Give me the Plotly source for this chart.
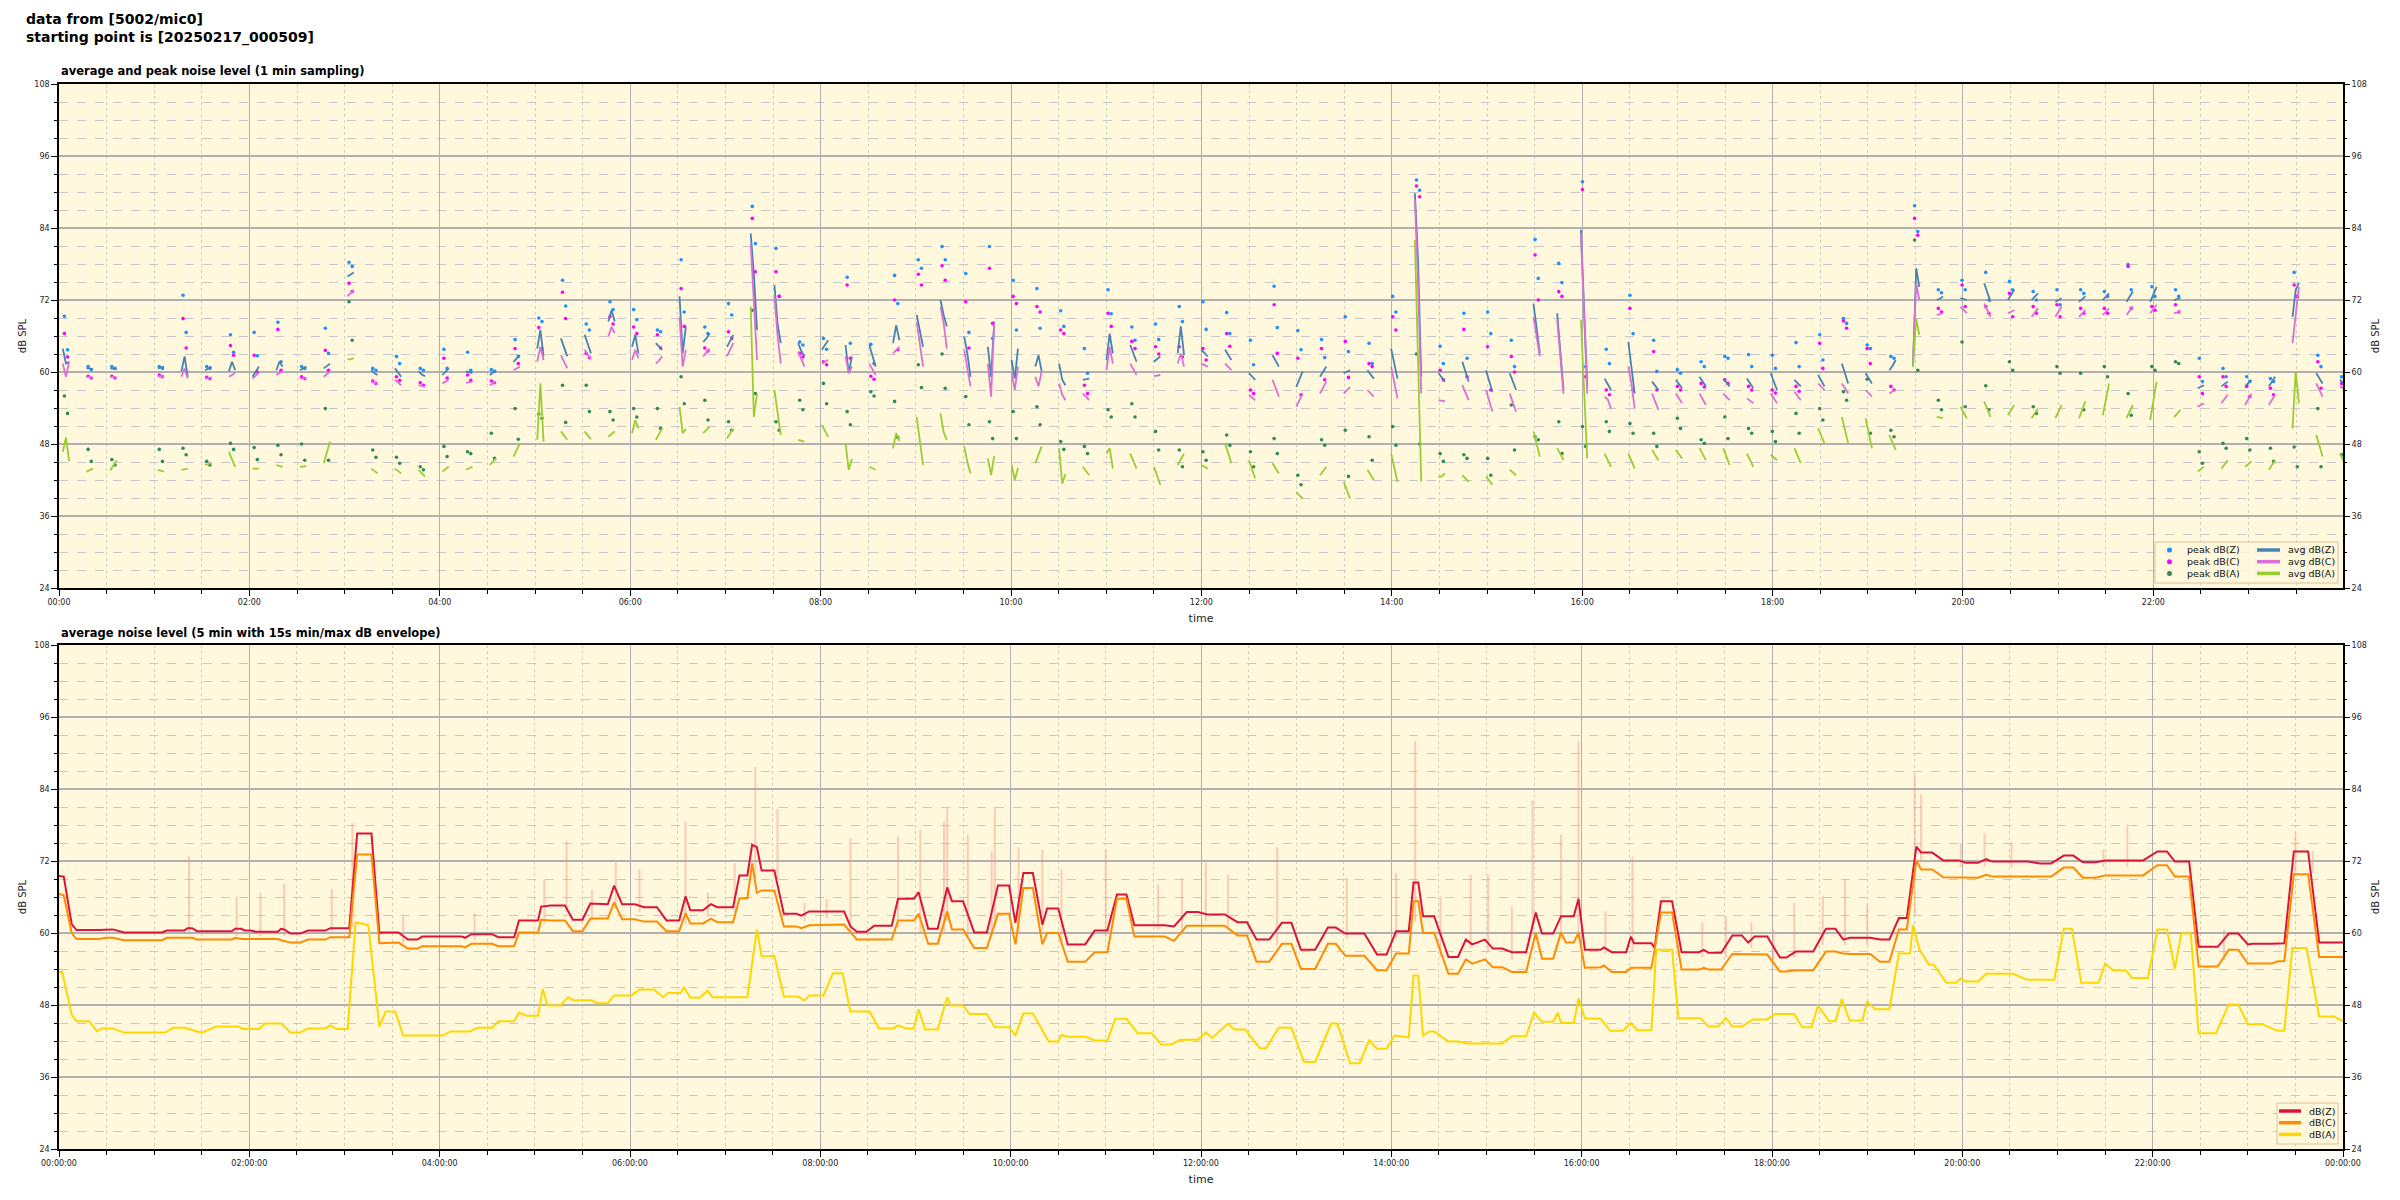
import pandas as pd
import plotly.graph_objects as go

BASE = pd.Timestamp("2025-02-17 00:00:00")

# ---------------- top panel: 1-min samples, short bursts every ~15 min ----------------
burst_index = [0, 1, 2] + list(range(4, 97))

avg_z = [
    (63.9, 61.4, 61.7), (60.6, 60.6, 60.4), (60.6, 60.6, 60.5), (60.6, 60.8, 60.9), (60.1, 62.6, 59.2),
    (60.3, 60.6, 60.9), (60.1, 61.7, 60.3), (59.2, 60.0, 60.9), (60.3, 61.7, 60.9), (60.3, 60.6, 60.9),
    (60.6, 61.0, 61.4), (75.9, 76.3, 76.6), (60.3, 59.8, 59.5), (60.6, 59.8, 59.2), (60.1, 59.6, 59.3),
    (59.5, 60.0, 60.6), (60.1, 60.0, 59.8), (59.5, 59.9, 60.3), (61.7, 62.3, 62.8), (63.9, 67.0, 62.6),
    (65.6, 64.0, 62.6), (66.2, 64.5, 63.1), (68.4, 70.3, 68.4), (64.2, 66.2, 63.1), (64.8, 64.2, 63.7),
    (72.6, 63.1, 67.6), (65.0, 65.6, 66.4), (64.2, 65.2, 66.2), (83.1, 76.4, 67.0), (74.5, 68.0, 64.8),
    (64.8, 63.5, 62.6), (63.7, 64.5, 65.3), (64.5, 59.8, 62.6), (64.5, 62.5, 60.9), (64.8, 67.8, 65.3),
    (69.5, 66.5, 64.2), (72.0, 69.5, 67.6), (65.9, 63.1, 59.2), (64.2, 59.2, 68.4), (62.0, 58.9, 63.9),
    (60.9, 62.8, 60.1), (61.4, 58.7, 57.8), (58.7, 58.8, 58.9), (62.0, 66.4, 63.1), (64.5, 63.0, 61.7),
    (61.7, 62.2, 62.6), (63.1, 67.6, 62.8), (63.7, 63.1, 62.6), (63.7, 62.8, 62.0), (59.8, 59.2, 58.7),
    (62.8, 61.8, 60.9), (57.5, 58.8, 60.1), (59.2, 60.0, 60.9), (59.8, 60.0, 60.3), (60.3, 59.6, 58.9),
    (63.9, 61.5, 58.9), (89.8, 78.7, 59.2), (59.8, 59.1, 58.4), (61.7, 60.0, 58.4), (60.3, 58.5, 56.7),
    (59.8, 58.4, 57.0), (71.4, 67.0, 63.1), (69.8, 63.0, 57.0), (83.7, 70.0, 57.6), (58.9, 58.0, 57.0),
    (65.0, 60.5, 56.4), (58.4, 57.7, 57.0), (58.7, 58.0, 57.3), (59.2, 58.4, 57.6), (58.9, 58.2, 57.6),
    (58.9, 58.1, 57.3), (59.8, 58.4, 57.0), (58.7, 58.1, 57.6), (59.5, 58.6, 57.6), (61.4, 59.7, 58.1),
    (59.8, 58.9, 58.1), (60.3, 61.0, 62.0), (60.9, 77.3, 74.2), (72.0, 72.2, 72.6), (72.3, 72.2, 72.0),
    (74.8, 73.2, 71.7), (72.0, 72.8, 73.7), (72.0, 72.6, 73.1), (71.7, 72.0, 72.3), (71.7, 72.1, 72.6),
    (72.0, 72.6, 73.1), (71.7, 72.5, 73.4), (71.7, 73.0, 74.2), (72.0, 72.1, 72.3), (57.3, 57.6, 57.8),
    (57.6, 58.0, 58.4), (57.6, 58.1, 58.7), (57.6, 58.4, 59.2), (69.2, 73.7, 74.8), (59.8, 58.9, 58.1),
    (58.7, 58.3, 57.8),
]

avg_c = [
    (61.4, 59.2, 61.7), (59.2, 59.2, 59.0), (59.2, 59.2, 59.0), (59.3, 59.3, 59.2), (59.2, 60.6, 58.9),
    (58.9, 59.0, 59.1), (59.2, 59.5, 59.8), (58.9, 59.4, 59.9), (59.5, 59.8, 60.1), (58.9, 59.0, 59.0),
    (59.2, 59.6, 60.1), (72.6, 73.2, 73.7), (58.4, 58.2, 58.0), (58.7, 58.2, 57.8), (57.8, 57.7, 57.6),
    (58.1, 58.4, 58.7), (58.2, 58.3, 58.4), (57.8, 58.1, 58.4), (60.3, 60.6, 60.9), (61.7, 64.2, 62.0),
    (62.8, 61.6, 60.6), (63.7, 62.9, 62.1), (65.9, 67.5, 66.5), (62.0, 63.7, 62.3), (61.4, 61.9, 62.6),
    (69.2, 60.9, 63.7), (62.6, 63.3, 63.9), (62.6, 63.6, 64.8), (81.4, 72.0, 62.0), (72.6, 66.0, 61.4),
    (63.4, 62.2, 60.9), (61.4, 61.7, 62.0), (62.6, 59.8, 60.9), (61.4, 60.5, 59.5), (63.1, 63.7, 64.2),
    (68.4, 64.6, 60.9), (70.9, 68.2, 63.9), (63.7, 60.6, 57.6), (61.4, 55.9, 68.1), (59.8, 57.0, 60.9),
    (59.2, 57.6, 60.1), (58.1, 56.2, 55.3), (56.4, 55.9, 55.3), (60.3, 64.2, 61.4), (61.4, 60.4, 59.5),
    (59.3, 59.4, 59.5), (61.4, 63.1, 60.9), (61.4, 61.1, 60.9), (61.4, 60.8, 60.3), (56.2, 55.8, 55.3),
    (58.7, 57.3, 55.9), (54.2, 55.3, 56.4), (56.4, 57.4, 58.4), (56.4, 56.9, 57.5), (57.0, 56.4, 55.9),
    (60.9, 58.2, 55.6), (88.7, 74.8, 56.4), (55.3, 55.2, 55.1), (57.8, 56.5, 55.3), (57.0, 55.2, 53.4),
    (56.4, 54.9, 53.4), (69.2, 66.0, 62.6), (68.7, 62.0, 56.4), (83.1, 68.0, 56.4), (55.9, 55.4, 53.9),
    (60.9, 58.0, 53.9), (56.4, 55.0, 53.7), (56.4, 55.6, 54.8), (56.4, 55.5, 54.5), (56.4, 55.9, 55.3),
    (55.6, 55.2, 54.8), (56.4, 55.6, 54.8), (56.7, 56.0, 55.3), (58.1, 57.6, 57.0), (58.1, 57.3, 56.4),
    (57.0, 56.5, 55.9), (56.4, 56.8, 57.0), (62.0, 74.8, 72.0), (69.5, 69.6, 69.8), (70.9, 70.3, 69.8),
    (71.4, 70.3, 69.2), (69.8, 70.1, 70.3), (69.2, 69.9, 70.6), (69.2, 70.0, 70.9), (69.2, 69.8, 70.3),
    (69.5, 70.0, 70.6), (69.5, 70.2, 70.9), (69.8, 70.5, 71.2), (69.8, 69.9, 70.3), (54.2, 54.5, 54.8),
    (54.8, 55.5, 56.2), (54.5, 55.5, 56.4), (54.5, 55.3, 56.2), (64.8, 69.8, 74.2), (58.1, 57.0, 55.9),
    (57.6, 57.3, 57.0),
]

avg_a = [
    (46.7, 49.1, 45.1), (43.4, 43.6, 43.9), (43.6, 44.5, 45.3), (43.7, 43.6, 43.4), (43.7, 43.8, 43.9),
    (44.5, 44.6, 44.8), (46.7, 45.5, 44.2), (43.9, 43.9, 43.9), (44.5, 44.3, 44.2), (44.2, 44.2, 44.3),
    (44.8, 46.5, 48.4), (62.1, 62.1, 62.3), (43.9, 43.5, 43.1), (43.9, 43.5, 43.1), (43.7, 43.2, 42.6),
    (43.4, 43.8, 44.2), (43.7, 43.9, 44.2), (44.5, 45.0, 45.6), (45.9, 47.0, 48.1), (48.7, 58.1, 48.4),
    (50.1, 49.4, 48.7), (50.1, 49.4, 48.8), (49.2, 49.6, 50.1), (49.8, 52.0, 50.6), (48.7, 49.7, 50.6),
    (54.2, 49.8, 50.5), (49.8, 50.4, 50.9), (48.9, 49.8, 50.6), (70.9, 52.5, 56.4), (57.0, 53.0, 49.5),
    (48.7, 48.5, 48.4), (51.2, 50.2, 49.2), (48.1, 43.7, 45.5), (44.2, 43.9, 43.7), (47.3, 49.8, 48.5),
    (52.5, 48.0, 44.5), (53.1, 50.0, 48.7), (47.6, 45.0, 43.1), (45.6, 42.8, 46.0), (44.5, 42.0, 44.0),
    (44.8, 46.2, 47.6), (47.3, 41.4, 43.0), (44.2, 43.5, 42.8), (46.4, 47.3, 43.9), (46.4, 45.2, 43.9),
    (44.2, 42.7, 41.2), (44.5, 45.5, 46.4), (44.5, 44.2, 43.9), (48.1, 46.5, 44.8), (45.3, 43.8, 42.3),
    (44.8, 43.9, 43.1), (40.0, 39.5, 38.9), (42.8, 43.5, 44.2), (41.7, 40.3, 38.9), (43.7, 42.8, 42.0),
    (46.4, 44.0, 41.7), (82.0, 60.9, 41.7), (42.5, 42.6, 43.1), (42.8, 42.3, 41.7), (42.6, 41.9, 41.2),
    (43.7, 43.2, 42.8), (50.1, 48.0, 45.9), (47.3, 46.3, 45.3), (68.7, 56.0, 45.6), (46.4, 45.3, 44.2),
    (46.4, 45.1, 43.9), (47.0, 46.1, 45.3), (47.0, 46.3, 45.6), (47.3, 46.3, 45.3), (47.3, 45.9, 44.5),
    (46.4, 45.3, 44.2), (46.2, 45.8, 45.3), (47.3, 46.0, 44.8), (50.6, 49.4, 48.1), (52.5, 50.3, 48.1),
    (52.3, 49.8, 47.3), (49.5, 48.3, 47.0), (60.9, 68.9, 66.2), (52.5, 52.4, 52.3), (54.2, 53.2, 52.3),
    (55.1, 53.8, 52.5), (52.8, 53.7, 54.5), (52.3, 53.1, 53.9), (52.3, 53.4, 54.5), (52.3, 53.7, 55.1),
    (52.8, 55.5, 58.1), (52.3, 53.4, 54.5), (52.0, 55.2, 58.4), (52.5, 53.0, 53.7), (43.4, 43.8, 44.2),
    (43.9, 44.6, 45.3), (44.2, 44.7, 45.1), (43.7, 44.5, 45.3), (50.6, 60.1, 54.8), (49.5, 47.7, 45.9),
    (46.4, 45.3, 44.2),
]

peak_z = [
    (69.3, 63.7), (60.9, 60.4), (60.9, 60.6), (60.9, 60.6), (72.8, 66.6), (60.9, 60.6), (66.2, 63.3),
    (66.6, 62.7), (68.3, 61.7), (60.9, 60.6), (67.3, 63.1), (78.3, 77.6), (60.6, 60.3), (62.6, 61.4),
    (60.6, 60.3), (63.8, 60.6), (63.3, 60.3), (60.4, 60.1), (65.4, 62.6), (69.0, 68.4), (75.3, 71.0),
    (68.0, 67.0), (71.7, 70.4), (70.4, 68.7), (67.0, 66.7), (78.7, 70.0), (67.5, 66.4), (71.4, 69.5),
    (87.6, 81.4), (80.6, 72.6), (65.0, 64.5), (65.6, 63.8), (75.8, 64.8), (64.6, 61.4), (76.1, 71.4),
    (78.7, 77.3), (80.9, 78.7), (76.4, 66.6), (80.9, 65.6), (75.3, 67.0), (73.9, 67.3), (70.2, 67.6),
    (63.9, 59.8), (73.7, 69.7), (67.5, 65.3), (68.0, 65.4), (70.9, 68.4), (71.7, 67.1), (69.9, 66.4),
    (65.3, 61.2), (74.3, 67.4), (66.9, 63.7), (65.4, 62.4), (69.2, 63.4), (64.8, 61.4), (72.6, 70.0),
    (92.0, 90.3), (64.3, 61.4), (69.8, 62.3), (70.0, 66.4), (65.3, 60.9), (82.1, 75.6), (78.1, 74.9),
    (91.7, 60.9), (63.8, 61.4), (72.8, 66.4), (65.3, 60.1), (60.4, 59.8), (61.7, 60.9), (62.6, 62.3),
    (62.9, 60.9), (62.8, 60.6), (64.9, 60.9), (66.2, 62.0), (68.9, 68.1), (64.5, 63.9), (62.6, 62.3),
    (87.7, 83.4), (73.7, 73.2), (75.3, 73.7), (76.6, 72.0), (75.1, 73.7), (73.4, 72.0), (73.7, 71.2),
    (73.7, 73.1), (73.4, 72.6), (77.9, 73.7), (74.2, 72.6), (73.7, 72.6), (62.3, 58.4), (60.6, 59.2),
    (59.2, 58.4), (58.9, 58.4), (76.6, 72.6), (62.8, 60.9), (59.2, 58.5),
]

peak_c = [
    (66.4, 62.5), (59.3, 59.0), (59.3, 59.0), (59.5, 59.2), (68.9, 64.0), (59.1, 58.9), (64.4, 62.8),
    (62.8, 60.0), (67.1, 60.3), (59.2, 58.9), (63.6, 60.3), (74.8, 73.4), (58.5, 58.1), (59.2, 58.6),
    (58.2, 57.8), (62.3, 59.0), (59.5, 58.6), (58.5, 58.2), (63.9, 61.4), (67.4, 63.9), (73.3, 68.9),
    (63.1, 62.4), (69.2, 68.0), (67.5, 66.4), (66.2, 64.0), (73.9, 67.6), (64.0, 63.5), (66.7, 65.6),
    (85.6, 76.7), (76.7, 72.6), (63.1, 62.5), (61.7, 61.2), (74.5, 62.3), (59.3, 58.8), (72.0, 63.7),
    (76.3, 74.5), (77.7, 75.3), (71.7, 64.0), (77.3, 68.1), (72.6, 71.4), (70.9, 70.0), (67.0, 66.4),
    (57.8, 56.4), (69.8, 67.6), (65.1, 63.9), (64.2, 63.0), (64.2, 62.5), (63.9, 62.0), (66.4, 64.3),
    (57.0, 56.4), (71.2, 63.1), (62.3, 56.2), (63.9, 58.7), (65.1, 59.1), (61.4, 60.9), (69.2, 67.0),
    (91.0, 89.2), (60.3, 58.7), (67.1, 59.2), (64.2, 57.0), (62.6, 60.0), (79.5, 72.0), (73.4, 72.6),
    (90.4, 59.2), (57.0, 56.2), (70.6, 57.0), (63.4, 57.0), (57.6, 57.0), (58.1, 57.5), (58.7, 58.1),
    (57.6, 57.0), (57.0, 56.5), (57.6, 56.8), (64.8, 60.6), (68.5, 67.3), (63.9, 61.4), (57.6, 57.0),
    (85.6, 82.8), (70.6, 70.0), (74.5, 70.9), (70.9, 69.8), (73.1, 69.2), (70.9, 69.8), (71.2, 69.2),
    (70.6, 69.8), (70.6, 69.8), (77.6, 70.6), (70.9, 70.3), (71.2, 70.0), (59.2, 56.4), (59.2, 57.6),
    (57.6, 55.9), (57.3, 56.2), (74.5, 72.6), (61.7, 57.3), (58.1, 57.5),
]

peak_a = [
    (56.0, 53.1), (47.1, 45.1), (45.4, 44.5), (47.1, 45.1), (47.3, 46.2), (45.1, 44.5), (48.1, 47.1),
    (47.4, 45.4), (47.8, 46.2), (48.0, 45.3), (53.9, 45.3), (71.7, 65.3), (47.0, 45.8), (45.8, 44.8),
    (44.2, 43.7), (47.6, 45.9), (46.7, 46.4), (49.8, 45.6), (53.9, 48.8), (53.0, 52.3), (57.8, 51.6),
    (57.8, 53.4), (53.4, 52.0), (53.9, 52.5), (53.9, 50.6), (59.2, 54.7), (55.3, 52.0), (51.7, 50.3),
    (70.3, 56.4), (51.7, 50.3), (55.3, 53.7), (58.1, 54.7), (53.4, 51.2), (56.7, 56.0), (55.1, 49.1),
    (61.2, 57.4), (63.0, 57.3), (55.9, 51.2), (51.7, 48.9), (53.4, 48.9), (54.2, 51.2), (48.4, 47.1),
    (47.6, 46.4), (53.7, 52.5), (54.7, 52.5), (50.1, 47.0), (47.0, 44.2), (46.7, 45.3), (49.5, 47.8),
    (46.7, 44.2), (48.9, 46.4), (42.8, 41.2), (48.7, 47.8), (50.3, 42.6), (49.2, 45.3), (50.9, 47.8),
    (63.0, 48.0), (46.4, 45.1), (46.2, 45.6), (45.6, 42.8), (54.5, 47.0), (49.2, 48.7), (51.7, 46.4),
    (50.9, 47.6), (51.7, 50.1), (51.4, 49.8), (49.8, 47.6), (52.3, 50.6), (48.7, 48.1), (52.5, 48.9),
    (50.6, 49.8), (50.1, 48.4), (53.1, 49.8), (53.9, 52.0), (56.7, 55.3), (58.8, 49.8), (50.3, 49.2),
    (82.0, 60.3), (55.3, 53.7), (65.0, 54.2), (57.7, 53.7), (61.7, 60.3), (54.2, 53.1), (60.9, 59.8),
    (59.8, 53.7), (60.9, 59.2), (56.4, 52.8), (60.9, 60.3), (61.7, 61.4), (46.7, 44.8), (48.1, 47.3),
    (48.9, 47.0), (47.3, 45.1), (47.5, 44.2), (53.9, 44.2), (46.2, 45.0),
]

# ---------------- bottom panel: 5-min averages (minute, dB) ----------------
line_z = [
    (0, 69.5), (3, 69.4), (8, 61.5), (11, 60.5), (25, 60.5), (30, 60.6), (34, 60.6), (41, 60.1), (65, 60.1),
    (68, 60.4), (79, 60.4), (81, 60.8), (84, 60.8), (87, 60.3), (109, 60.3), (111, 60.7), (115, 60.7),
    (117, 60.4), (121, 60.4), (124, 60.2), (138, 60.2), (140, 60.7), (142, 60.6), (146, 59.9), (152, 59.9),
    (157, 60.4), (168, 60.4), (171, 60.8), (183, 60.8), (188, 76.6), (197, 76.6), (202, 59.9), (203, 60.1),
    (214, 60.1), (220, 58.9), (226, 58.9), (229, 59.4), (254, 59.4), (256, 59.2), (260, 59.8), (273, 59.8),
    (277, 59.3), (287, 59.3), (290, 62.1), (302, 62.1), (304, 64.4), (310, 64.6), (319, 64.6), (324, 62.2),
    (330, 62.2), (335, 64.9), (346, 64.8), (350, 67.9), (355, 64.8), (363, 64.8), (369, 64.3), (377, 64.3),
    (383, 62.1), (391, 62.1), (395, 66.1), (398, 63.8), (406, 63.8), (411, 64.8), (415, 64.3), (425, 64.3),
    (429, 69.6), (434, 69.6), (437, 74.7), (440, 74.3), (443, 70.4), (451, 70.4), (457, 63.2), (465, 63.2),
    (468, 62.9), (473, 63.6), (495, 63.6), (499, 61.1), (503, 60.2), (509, 60.2), (514, 61.2), (525, 61.2),
    (529, 65.7), (539, 65.7), (542, 66.8), (548, 60.7), (554, 60.7), (560, 67.6), (563, 65.3), (570, 65.3),
    (577, 60.1), (585, 60.1), (592, 67.9), (599, 67.9), (603, 61.7), (608, 70.0), (614, 70.0), (620, 61.4),
    (623, 64.1), (630, 64.1), (636, 58.1), (647, 58.1), (653, 60.4), (661, 60.4), (667, 66.4), (673, 66.4),
    (678, 61.3), (697, 61.3), (703, 61.1), (711, 63.5), (718, 63.5), (724, 63.1), (735, 63.1), (743, 61.8),
    (749, 61.8), (755, 58.9), (763, 58.9), (771, 61.7), (777, 61.7), (783, 57.2), (792, 57.2), (800, 60.9),
    (805, 60.9), (811, 59.9), (823, 59.9), (831, 56.4), (837, 56.4), (843, 60.3), (851, 60.3), (854, 68.4),
    (857, 68.4), (860, 62.8), (867, 62.8), (876, 56.0), (882, 56.0), (887, 58.9), (891, 58.1), (899, 58.9),
    (904, 57.4), (910, 57.4), (916, 56.8), (925, 56.8), (931, 63.4), (935, 59.9), (942, 59.9), (947, 62.8),
    (955, 62.8), (958, 65.7), (962, 57.2), (972, 57.2), (974, 57.6), (979, 56.8), (988, 56.8), (991, 59.4),
    (993, 58.3), (1004, 58.3), (1006, 57.5), (1010, 65.3), (1017, 65.3), (1023, 56.8), (1034, 56.8),
    (1037, 57.2), (1040, 56.7), (1048, 56.7), (1055, 59.6), (1061, 59.6), (1065, 58.4), (1069, 59.4),
    (1077, 59.4), (1085, 55.9), (1089, 55.9), (1095, 56.9), (1106, 56.9), (1114, 60.7), (1120, 60.7),
    (1125, 58.9), (1129, 59.2), (1142, 59.2), (1148, 58.9), (1154, 58.9), (1160, 62.5), (1165, 62.5),
    (1171, 74.4), (1174, 73.4), (1181, 73.4), (1188, 72.1), (1198, 72.1), (1202, 71.7), (1210, 71.7),
    (1215, 72.3), (1219, 71.9), (1241, 71.9), (1249, 71.6), (1256, 71.6), (1264, 72.9), (1270, 72.9),
    (1276, 71.8), (1284, 71.8), (1290, 72.1), (1314, 72.1), (1323, 73.6), (1329, 73.6), (1334, 71.9),
    (1343, 71.9), (1349, 57.7), (1361, 57.7), (1368, 59.9), (1374, 59.9), (1380, 58.1), (1383, 58.2),
    (1395, 58.2), (1399, 58.3), (1403, 58.3), (1409, 73.6), (1418, 73.6), (1425, 58.4), (1440, 58.4),
]

line_c = [
    (0, 66.5), (3, 66.3), (8, 60.0), (11, 59.0), (25, 59.0), (30, 59.2), (34, 59.2), (41, 58.8), (65, 58.8),
    (68, 59.2), (84, 59.2), (87, 58.9), (109, 58.9), (111, 59.2), (115, 59.0), (138, 59.0), (140, 58.8),
    (146, 58.4), (152, 58.4), (157, 58.9), (168, 58.9), (171, 59.3), (183, 59.3), (188, 73.1), (197, 73.1),
    (202, 58.3), (214, 58.4), (220, 57.4), (226, 57.4), (229, 57.8), (254, 57.8), (256, 57.6), (260, 58.2),
    (273, 58.2), (277, 57.8), (287, 57.8), (290, 60.1), (302, 60.1), (304, 62.2), (310, 62.1), (319, 62.1),
    (324, 60.3), (330, 60.3), (335, 62.4), (346, 62.4), (350, 65.1), (355, 62.3), (363, 62.3), (369, 61.9),
    (377, 61.9), (383, 60.3), (391, 60.3), (395, 63.3), (398, 61.6), (406, 61.6), (411, 62.4), (415, 61.8),
    (425, 61.8), (429, 65.8), (434, 65.8), (437, 71.6), (440, 66.7), (443, 67.1), (451, 67.1), (457, 61.1),
    (465, 61.1), (468, 60.8), (473, 61.3), (495, 61.4), (503, 58.9), (525, 58.9), (529, 62.1), (539, 62.1),
    (542, 63.2), (548, 58.2), (554, 58.2), (560, 63.6), (563, 60.6), (570, 60.6), (577, 57.5), (585, 57.5),
    (592, 63.2), (599, 63.2), (603, 58.1), (608, 67.5), (614, 67.5), (620, 58.1), (623, 60.0), (630, 60.0),
    (636, 55.2), (647, 55.2), (653, 56.8), (661, 56.8), (667, 65.7), (673, 65.7), (678, 59.4), (697, 59.4),
    (703, 58.7), (711, 61.2), (735, 61.2), (743, 59.6), (749, 59.6), (755, 55.2), (763, 55.2), (771, 58.2),
    (777, 58.2), (783, 54.0), (792, 54.0), (800, 58.2), (805, 58.2), (811, 56.2), (823, 56.2), (831, 53.8),
    (837, 53.8), (843, 56.6), (851, 56.6), (854, 65.3), (857, 65.3), (860, 60.0), (867, 60.0), (876, 53.2),
    (882, 53.2), (887, 55.6), (891, 54.9), (899, 55.6), (904, 54.3), (910, 54.3), (916, 53.5), (925, 53.5),
    (931, 60.0), (935, 55.7), (942, 55.7), (947, 60.1), (950, 58.4), (955, 58.4), (958, 60.0), (962, 54.2),
    (972, 54.3), (974, 54.6), (979, 53.5), (988, 53.5), (991, 54.2), (1004, 54.2), (1010, 63.4),
    (1017, 63.4), (1023, 53.9), (1034, 53.9), (1037, 54.2), (1040, 53.9), (1048, 53.9), (1055, 56.5),
    (1061, 56.5), (1069, 56.4), (1077, 56.4), (1085, 53.6), (1089, 53.6), (1095, 53.8), (1106, 53.8),
    (1114, 56.9), (1120, 56.9), (1125, 56.6), (1129, 56.5), (1142, 56.5), (1148, 55.2), (1154, 55.2),
    (1160, 60.6), (1165, 60.6), (1171, 72.1), (1174, 70.6), (1181, 70.6), (1188, 69.3), (1198, 69.3),
    (1202, 69.2), (1210, 69.2), (1215, 69.7), (1219, 69.4), (1256, 69.4), (1264, 70.9), (1270, 70.9),
    (1276, 69.2), (1284, 69.2), (1290, 69.6), (1314, 69.6), (1323, 71.3), (1329, 71.3), (1334, 69.4),
    (1343, 69.4), (1349, 54.4), (1361, 54.4), (1368, 57.2), (1374, 57.2), (1380, 54.9), (1395, 54.9),
    (1399, 55.3), (1403, 55.3), (1409, 69.8), (1418, 69.8), (1425, 56.0), (1440, 56.0),
]

line_a = [
    (0, 53.5), (2, 53.5), (5, 50.0), (8, 46.4), (11, 45.3), (19, 45.3), (24, 43.6), (27, 44.1), (34, 44.1),
    (41, 43.4), (67, 43.4), (72, 44.2), (79, 44.2), (90, 43.4), (99, 44.4), (113, 44.4), (116, 44.0),
    (126, 44.0), (130, 44.9), (140, 44.9), (146, 43.4), (152, 43.4), (157, 44.1), (168, 44.1), (171, 44.6),
    (175, 44.0), (182, 44.0), (187, 61.8), (195, 61.3), (202, 44.4), (206, 46.9), (212, 46.9), (217, 42.9),
    (242, 42.9), (247, 43.6), (259, 43.6), (264, 44.2), (273, 44.2), (277, 45.3), (287, 45.3), (290, 46.7),
    (295, 46.2), (302, 46.2), (305, 50.7), (308, 47.9), (316, 47.9), (321, 49.3), (324, 48.8), (336, 48.8),
    (339, 48.3), (346, 48.3), (350, 49.6), (361, 49.6), (366, 50.6), (375, 50.6), (381, 49.3), (384, 50.0),
    (392, 50.0), (394, 51.0), (398, 49.2), (404, 49.2), (409, 50.4), (412, 49.3), (434, 49.3), (440, 60.6),
    (443, 56.1), (451, 56.2), (457, 49.4), (466, 49.4), (470, 48.7), (473, 49.6), (482, 49.6), (488, 53.3),
    (494, 53.3), (499, 46.9), (511, 46.9), (517, 44.1), (526, 44.1), (529, 44.6), (534, 44.1), (539, 44.1),
    (542, 47.3), (546, 43.9), (554, 43.9), (560, 49.3), (562, 47.9), (570, 47.9), (574, 46.5), (585, 46.5),
    (590, 44.3), (599, 44.3), (603, 42.9), (608, 46.6), (614, 46.6), (624, 41.9), (630, 41.9), (632, 43.0),
    (636, 42.7), (647, 42.7), (653, 42.1), (661, 42.1), (666, 45.7), (673, 45.7), (680, 43.3), (689, 43.3),
    (695, 41.4), (701, 41.4), (707, 42.2), (718, 42.2), (723, 43.4), (727, 42.5), (737, 44.9), (741, 43.9),
    (748, 43.9), (757, 40.8), (761, 40.8), (769, 44.2), (777, 44.2), (785, 38.5), (792, 38.5), (802, 44.9),
    (806, 44.9), (814, 38.3), (820, 38.3), (826, 42.1), (831, 40.7), (837, 40.7), (842, 42.9), (851, 42.6),
    (854, 52.9), (857, 52.9), (860, 42.9), (864, 43.6), (867, 43.6), (876, 41.9), (882, 41.9), (888, 41.6),
    (910, 41.6), (916, 42.8), (925, 42.8), (930, 46.7), (935, 45.2), (942, 45.2), (945, 46.7), (947, 45.0),
    (955, 45.0), (958, 49.1), (962, 45.8), (972, 45.7), (978, 43.7), (986, 43.7), (991, 45.0), (995, 43.8),
    (1004, 43.8), (1007, 57.2), (1017, 57.2), (1021, 45.8), (1035, 45.8), (1040, 44.4), (1046, 44.4),
    (1051, 45.8), (1055, 44.4), (1061, 44.4), (1068, 45.6), (1077, 45.6), (1082, 46.5), (1094, 46.5),
    (1099, 44.3), (1105, 44.3), (1109, 47.9), (1116, 45.3), (1120, 45.3), (1124, 49.0), (1129, 45.4),
    (1137, 45.4), (1140, 48.6), (1145, 47.3), (1154, 47.3), (1160, 56.6), (1167, 56.6), (1169, 61.3),
    (1173, 57.2), (1179, 54.7), (1182, 54.7), (1190, 51.7), (1196, 51.7), (1199, 52.4), (1202, 51.9),
    (1210, 51.9), (1215, 53.2), (1232, 53.2), (1241, 52.2), (1258, 52.2), (1264, 60.7), (1269, 60.7),
    (1275, 51.7), (1286, 51.7), (1290, 54.9), (1295, 53.8), (1303, 53.8), (1307, 52.5), (1317, 52.5),
    (1323, 60.6), (1329, 60.6), (1334, 54.0), (1338, 59.9), (1344, 59.9), (1349, 43.3), (1360, 43.3),
    (1368, 48.1), (1374, 48.1), (1380, 44.8), (1389, 44.8), (1399, 43.7), (1403, 43.7), (1408, 57.5),
    (1417, 57.5), (1425, 46.1), (1434, 46.1), (1440, 45.3),
]

# 15 s min/max envelope spikes (minute, low, high)
envelope = [
    (82, 59.8, 72.8), (112, 59.5, 66.1), (127, 59.5, 66.7), (142, 59.5, 68.3), (172, 60.0, 67.3),
    (185, 61.0, 78.3), (217, 58.3, 62.8), (262, 58.8, 63.3), (306, 61.5, 68.9), (320, 63.5, 75.3),
    (336, 62.0, 67.2), (351, 64.0, 71.7), (366, 63.5, 70.6), (395, 61.5, 78.6), (409, 63.0, 66.7),
    (426, 63.5, 71.6), (439, 69.0, 87.7), (453, 69.0, 80.7), (470, 62.0, 65.0), (484, 62.5, 65.6),
    (499, 60.0, 75.8), (529, 61.0, 76.1), (543, 60.0, 77.2), (558, 60.0, 78.6), (560, 62.0, 80.8),
    (573, 59.5, 76.4), (588, 59.5, 73.6), (590, 61.0, 81.0), (605, 60.0, 74.3), (620, 60.5, 73.9),
    (632, 58.0, 70.6), (660, 59.5, 73.9), (693, 60.5, 68.1), (708, 60.5, 69.2), (723, 62.0, 71.7),
    (737, 61.0, 69.7), (768, 58.0, 74.3), (812, 59.0, 69.2), (843, 59.0, 70.0), (855, 62.0, 92.0),
    (871, 56.0, 66.1), (890, 57.5, 69.7), (901, 57.0, 69.7), (916, 55.5, 64.4), (929, 60.0, 82.1),
    (947, 59.0, 76.4), (958, 60.0, 92.0), (975, 56.5, 63.6), (992, 57.0, 72.8), (1036, 56.0, 61.8),
    (1051, 56.0, 62.8), (1067, 57.5, 61.8), (1081, 55.5, 60.6), (1094, 56.0, 65.0), (1112, 58.0, 66.1),
    (1126, 58.0, 68.9), (1140, 58.0, 64.7), (1170, 63.0, 86.5), (1174, 72.0, 83.1), (1199, 71.0, 75.0),
    (1214, 71.0, 76.6), (1231, 71.0, 75.1), (1289, 71.0, 73.9), (1304, 71.0, 78.1), (1365, 55.5, 60.6),
    (1410, 70.0, 76.7), (1421, 70.0, 73.6),
]

# legend entries (label, colour)
legend_top_left = [("peak dB(Z)", "#1E90FF"), ("peak dB(C)", "#FF00FF"), ("peak dB(A)", "#2E8B57")]
legend_top_right = [("avg dB(Z)", "#4682B4"), ("avg dB(C)", "#DA70D6"), ("avg dB(A)", "#9ACD32")]
legend_bottom = [("dB(Z)", "#DC143C"), ("dB(C)", "#FF8C00"), ("dB(A)", "#FFD700")]


# ---------------- helpers ----------------
def ts(m):
    if m is None:
        return None
    return (BASE + pd.Timedelta(minutes=float(m))).strftime("%Y-%m-%d %H:%M:%S")


def burst_lines(vals):
    xs, ys = [], []
    for k, v in zip(burst_index, vals):
        c = 4.4 + 14.95 * k
        xs += [ts(c - 2), ts(c), ts(c + 2), None]
        ys += [v[0], v[1], v[2], None]
    return xs, ys


def burst_peaks(vals):
    xs, ys = [], []
    for k, v in zip(burst_index, vals):
        c = 4.4 + 14.95 * k
        xs += [ts(c - 1), ts(c + 1)]
        ys += [v[0], v[1]]
    return xs, ys


FONT = "DejaVu Sans"
BG = "#FFF8DC"
W, H = 2400, 1200
fig = go.Figure()

for (name, col), vals in zip(legend_top_left, [peak_z, peak_c, peak_a]):
    x, y = burst_peaks(vals)
    fig.add_trace(go.Scatter(x=x, y=y, mode="markers", name=name, xaxis="x", yaxis="y", showlegend=False,
                             marker=dict(color=col, size=3.6)))
for (name, col), vals in zip(legend_top_right, [avg_z, avg_c, avg_a]):
    x, y = burst_lines(vals)
    fig.add_trace(go.Scatter(x=x, y=y, mode="lines", name=name, xaxis="x", yaxis="y", showlegend=False,
                             line=dict(color=col, width=1.8)))

ex, ey = [], []
for m, lo, hi in envelope:
    ex += [ts(m), ts(m), None]
    ey += [lo, hi, None]
fig.add_trace(go.Scatter(x=ex, y=ey, mode="lines", xaxis="x2", yaxis="y3", showlegend=False,
                         line=dict(color="rgba(245,150,130,0.45)", width=2), hoverinfo="skip"))

for (name, col), pts in zip(legend_bottom, [line_z, line_c, line_a]):
    fig.add_trace(go.Scatter(x=[ts(p[0]) for p in pts], y=[p[1] for p in pts], mode="lines", name=name,
                             xaxis="x2", yaxis="y3", showlegend=False, line=dict(color=col, width=2)))

fig.add_trace(go.Scatter(x=[ts(0)], y=[None], xaxis="x", yaxis="y2", showlegend=False, hoverinfo="skip"))
fig.add_trace(go.Scatter(x=[ts(0)], y=[None], xaxis="x2", yaxis="y4", showlegend=False, hoverinfo="skip"))

XL, XR = 59 / W, 2343 / W
TOP_DOM = [1 - 588 / H, 1 - 84 / H]
BOT_DOM = [1 - 1149 / H, 1 - 645 / H]
tickfont = dict(family=FONT, size=8, color="#222")


def xaxis(anchor, fmt, end_min):
    return dict(domain=[XL, XR], anchor=anchor, type="date", range=[ts(0), ts(end_min)], automargin=False,
                tick0=ts(0), dtick=7200000, tickformat=fmt, ticks="outside", ticklen=6,
                tickcolor="black", tickfont=tickfont, showline=True, linecolor="black",
                linewidth=1.5, mirror=True, showgrid=True, gridcolor="#b0b0b0", gridwidth=1.2,
                zeroline=False,
                minor=dict(dtick=1800000, ticks="outside", ticklen=4, tickcolor="black",
                           showgrid=True, gridcolor="#d4d0c0", griddash="dot", gridwidth=1),
                title=dict(text="time", font=dict(family=FONT, size=11, color="#222"), standoff=8))


def yaxis(anchor, dom, side="left", overlay=None):
    d = dict(anchor=anchor, range=[24, 108], tick0=24, dtick=12, ticks="outside", ticklen=6,
             tickcolor="black", tickfont=tickfont, side=side, zeroline=False, automargin=False,
             title=dict(text="dB SPL", font=dict(family=FONT, size=10, color="#222"), standoff=6),
             minor=dict(dtick=3, ticks="outside", ticklen=3, tickcolor="black"))
    if overlay is None:
        d.update(domain=dom, showline=True, linecolor="black", linewidth=1.5, mirror=True,
                 showgrid=True, gridcolor="#b0b0b0", gridwidth=1.5)
        d["minor"].update(showgrid=True, gridcolor="#c8c8c8", griddash="dash", gridwidth=1)
    else:
        d.update(overlaying=overlay, showgrid=False, showline=False)
    return d


# ---- hand-built legends (shapes + text) ----
shapes, annos = [], []
BOXSTYLE = dict(type="rect", xref="paper", yref="paper", fillcolor="rgba(255,248,220,0.85)",
                line=dict(color="#dcc09a", width=1), layer="above")
shapes.append(dict(BOXSTYLE, x0=2155 / W, x1=2338 / W, y0=1 - 583 / H, y1=1 - 542 / H))
shapes.append(dict(BOXSTYLE, x0=2277 / W, x1=2338 / W, y0=1 - 1144 / H, y1=1 - 1103 / H))
LFONT = dict(family=FONT, size=9.5, color="#111")
for i, (label, col) in enumerate(legend_top_left):
    yy = 550 + i * 11.7
    shapes.append(dict(type="circle", xref="paper", yref="paper", x0=2167 / W, x1=2172 / W,
                       y0=1 - (yy + 2.5) / H, y1=1 - (yy - 2.5) / H, fillcolor=col, line=dict(width=0),
                       layer="above"))
    annos.append(dict(text=label, x=2185 / W, y=1 - yy / H, xref="paper", yref="paper", xanchor="left",
                      yanchor="middle", showarrow=False, font=LFONT))
for i, (label, col) in enumerate(legend_top_right):
    yy = 550 + i * 11.7
    shapes.append(dict(type="line", xref="paper", yref="paper", x0=2257 / W, x1=2280 / W,
                       y0=1 - yy / H, y1=1 - yy / H, line=dict(color=col, width=3.5), layer="above"))
    annos.append(dict(text=label, x=2286 / W, y=1 - yy / H, xref="paper", yref="paper", xanchor="left",
                      yanchor="middle", showarrow=False, font=LFONT))
for i, (label, col) in enumerate(legend_bottom):
    yy = 1111 + i * 11.7
    shapes.append(dict(type="line", xref="paper", yref="paper", x0=2279 / W, x1=2301 / W,
                       y0=1 - yy / H, y1=1 - yy / H, line=dict(color=col, width=3.5), layer="above"))
    annos.append(dict(text=label, x=2307 / W, y=1 - yy / H, xref="paper", yref="paper", xanchor="left",
                      yanchor="middle", showarrow=False, font=LFONT))

annos += [
    dict(text="<b>data from [5002/mic0]<br>starting point is [20250217_000509]</b>", x=24 / W,
         y=1 - 9 / H, xref="paper", yref="paper", xanchor="left", yanchor="top", align="left",
         showarrow=False, font=dict(family=FONT, size=14, color="black")),
    dict(text="<b>average and peak noise level (1 min sampling)</b>", x=XL, y=1 - 80 / H,
         xref="paper", yref="paper", xanchor="left", yanchor="bottom", showarrow=False,
         font=dict(family=FONT, size=11.5, color="black")),
    dict(text="<b>average noise level (5 min with 15s min/max dB envelope)</b>", x=XL, y=1 - 642 / H,
         xref="paper", yref="paper", xanchor="left", yanchor="bottom", showarrow=False,
         font=dict(family=FONT, size=11.5, color="black")),
]

fig.update_layout(
    width=W, height=H, autosize=False, margin=dict(l=0, r=0, t=0, b=0, pad=0, autoexpand=False),
    paper_bgcolor="white", plot_bgcolor=BG, showlegend=False,
    font=dict(family=FONT, color="#222"),
    xaxis=xaxis("y", "%H:%M", 1439.5),
    yaxis=yaxis("x", TOP_DOM),
    yaxis2=yaxis("x", TOP_DOM, side="right", overlay="y"),
    xaxis2=xaxis("y3", "%H:%M:%S", 1440),
    yaxis3=yaxis("x2", BOT_DOM),
    yaxis4=yaxis("x2", BOT_DOM, side="right", overlay="y3"),
    shapes=shapes,
    annotations=annos,
)

fig.write_html("out.html", config={"displayModeBar": False},
               post_script="document.body.style.margin='0px'; document.body.style.overflow='hidden';")
